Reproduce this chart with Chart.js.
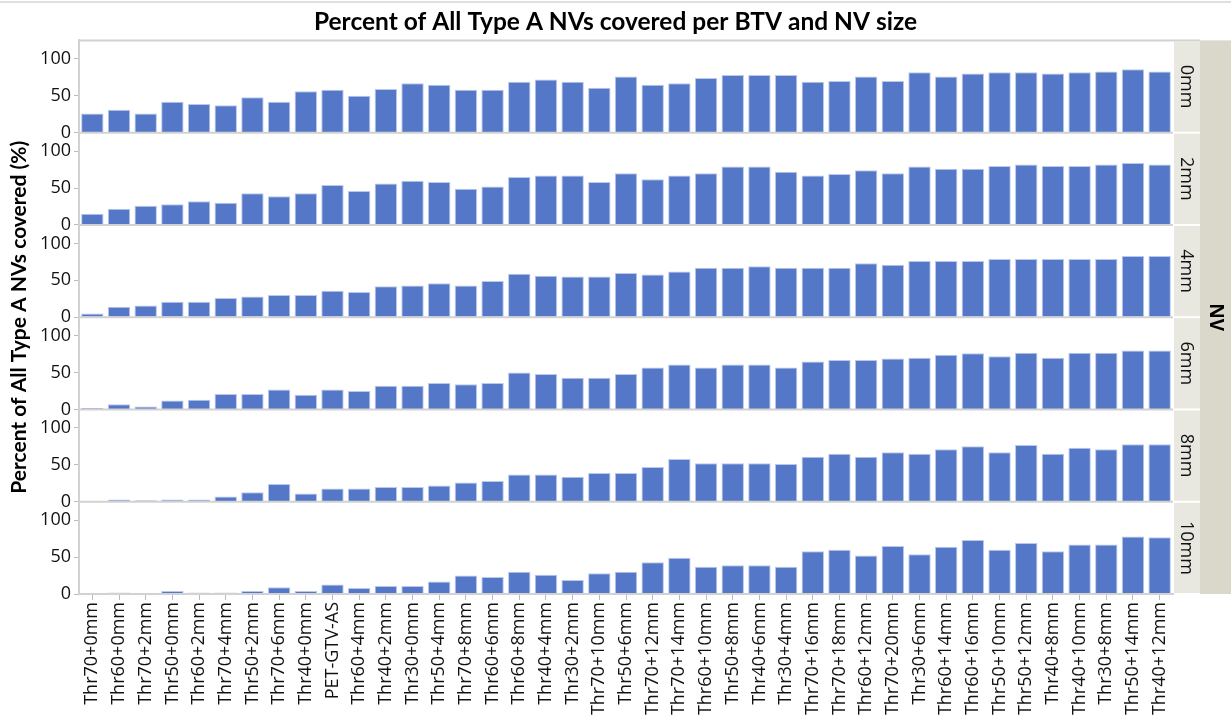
<!DOCTYPE html>
<html>
<head>
<meta charset="utf-8">
<script src="https://cdn.jsdelivr.net/npm/chart.js@4.4.1/dist/chart.umd.min.js"></script>
<style>
  html, body { margin: 0; padding: 0; background: #fff; }
  #wrap { width: 1231px; height: 726px; position: relative; }
</style>
</head>
<body>
<div id="wrap"><canvas id="chart"></canvas></div>
<script>
// categories along the x axis (BTV definitions)
const categories = [
  'Thr70+0mm', 'Thr60+0mm', 'Thr70+2mm', 'Thr50+0mm', 'Thr60+2mm', 'Thr70+4mm', 'Thr50+2mm',
  'Thr70+6mm', 'Thr40+0mm', 'PET-GTV-AS', 'Thr60+4mm', 'Thr40+2mm', 'Thr30+0mm', 'Thr50+4mm',
  'Thr70+8mm', 'Thr60+6mm', 'Thr60+8mm', 'Thr40+4mm', 'Thr30+2mm', 'Thr70+10mm', 'Thr50+6mm',
  'Thr70+12mm', 'Thr70+14mm', 'Thr60+10mm', 'Thr50+8mm', 'Thr40+6mm', 'Thr30+4mm', 'Thr70+16mm',
  'Thr70+18mm', 'Thr60+12mm', 'Thr70+20mm', 'Thr30+6mm', 'Thr60+14mm', 'Thr60+16mm', 'Thr50+10mm',
  'Thr50+12mm', 'Thr40+8mm', 'Thr40+10mm', 'Thr30+8mm', 'Thr50+14mm', 'Thr40+12mm'
];

// NV size panels
const nvSizes = ['0mm', '2mm', '4mm', '6mm', '8mm', '10mm'];

// percent covered, one array per NV size
const covered0mm = [26, 31, 26, 42, 39, 37, 48, 42, 56, 58, 50, 59, 67, 65, 58, 58, 69, 72, 69, 61, 76,
  65, 67, 74, 78, 78, 78, 69, 70, 76, 70, 82, 76, 80, 82, 82, 80, 82, 83, 86, 83];
const covered2mm = [15, 22, 26, 28, 32, 30, 43, 39, 43, 54, 46, 56, 60, 58, 49, 52, 65, 67, 67, 58, 70,
  62, 67, 70, 79, 79, 72, 67, 69, 74, 70, 79, 76, 76, 80, 82, 80, 80, 82, 84, 82];
const covered4mm = [5, 14, 16, 21, 21, 26, 28, 30, 30, 36, 34, 42, 43, 46, 43, 49, 59, 56, 55, 55, 60,
  58, 62, 67, 67, 69, 67, 67, 67, 73, 71, 76, 76, 76, 79, 79, 79, 79, 79, 83, 83];
const covered6mm = [2, 7, 4, 12, 13, 21, 21, 27, 20, 27, 25, 32, 32, 36, 34, 36, 50, 48, 43, 43, 48,
  57, 61, 57, 61, 61, 57, 65, 67, 67, 69, 70, 74, 76, 72, 77, 70, 77, 77, 80, 80];
const covered8mm = [0, 3, 2, 3, 3, 7, 13, 24, 11, 18, 18, 20, 20, 22, 26, 28, 37, 37, 34, 39, 39,
  47, 58, 52, 52, 52, 51, 61, 65, 61, 67, 65, 71, 75, 67, 77, 65, 73, 71, 78, 78];
const covered10mm = [0, 2, 0, 4, 2, 2, 4, 9, 4, 13, 8, 11, 11, 17, 25, 23, 30, 26, 19, 28, 30,
  43, 49, 37, 39, 39, 37, 58, 60, 52, 65, 54, 64, 73, 60, 69, 58, 67, 67, 78, 77];

// y axis ticks (labels only on 0, 50, 100)
const yTickValues = [0, 25, 50, 75, 100];
const yTickLabels = { 0: '0', 50: '50', 100: '100' };

const panels = [covered0mm, covered2mm, covered4mm, covered6mm, covered8mm, covered10mm];

const LINE = '#d2d2d2';
const BAR = '#5477c7';

const scales = {
  x: {
    type: 'category',
    labels: categories,
    offset: true,
    afterFit: s => { s.height = 132; },
    grid: { offset: false, drawOnChartArea: false, tickLength: 6, color: '#bbbbbb' },
    border: { color: LINE, width: 2 },
    ticks: {
      autoSkip: false, minRotation: 90, maxRotation: 90, padding: 2,
      color: '#111', font: { family: 'Open Sans', size: 18 }
    }
  },
  // empty right axis that only reserves room for the NV strips
  strip: {
    type: 'linear',
    position: 'right',
    afterFit: s => { s.width = 58; },
    grid: { display: false },
    border: { display: false },
    ticks: { display: false }
  }
};

// stacked left axes get placed bottom-up, so add them from the last panel
for (let i = panels.length - 1; i >= 0; i--) {
  scales['y' + i] = {
    type: 'linear',
    position: 'left',
    stack: 'nv',
    stackWeight: 1,
    min: 0,
    max: 125,
    afterBuildTicks: s => { s.ticks = yTickValues.map(v => ({ value: v })); },
    afterFit: s => { s.width = 79; },
    grid: { drawOnChartArea: false, tickLength: 5, color: '#bbbbbb' },
    border: { color: LINE, width: 2 },
    ticks: {
      padding: 3,
      color: '#111',
      font: { family: 'Open Sans', size: 18 },
      callback: v => (yTickLabels[v] !== undefined ? yTickLabels[v] : '')
    }
  };
}

// panel borders, NV strips on the right and the y axis title
const panelDecor = {
  id: 'panelDecor',
  afterDraw(chart) {
    const ctx = chart.ctx;
    const area = chart.chartArea;
    const stripW = 27;
    ctx.save();

    // thin line at the very top
    ctx.strokeStyle = '#d6d6d6';
    ctx.lineWidth = 1.5;
    ctx.beginPath();
    ctx.moveTo(0, 2); ctx.lineTo(chart.width, 2);
    ctx.stroke();

    // NV band
    ctx.fillStyle = '#d9d8cb';
    ctx.fillRect(area.right + stripW, area.top, chart.width - area.right - stripW, area.bottom - area.top);

    // top line of the plot
    ctx.strokeStyle = LINE;
    ctx.lineWidth = 2;
    ctx.beginPath();
    ctx.moveTo(area.left, area.top); ctx.lineTo(area.right + stripW, area.top);
    ctx.stroke();

    nvSizes.forEach((name, i) => {
      const ax = chart.scales['y' + i];
      // separator between panels
      ctx.strokeStyle = LINE;
      ctx.lineWidth = 2;
      ctx.beginPath();
      ctx.moveTo(area.left, ax.bottom); ctx.lineTo(area.right, ax.bottom);
      ctx.stroke();
      // strip cell
      ctx.fillStyle = '#e8e8e0';
      ctx.fillRect(area.right + 1, ax.top + 1, stripW - 1, ax.bottom - ax.top - 2);
      ctx.save();
      ctx.translate(area.right + stripW / 2, (ax.top + ax.bottom) / 2);
      ctx.rotate(Math.PI / 2);
      ctx.fillStyle = '#111';
      ctx.font = '18px "Open Sans"';
      ctx.textAlign = 'center';
      ctx.textBaseline = 'middle';
      ctx.fillText(name, 0, 0);
      ctx.restore();
    });

    // NV label
    ctx.save();
    ctx.translate(area.right + stripW + (chart.width - area.right - stripW) / 2, (area.top + area.bottom) / 2);
    ctx.rotate(Math.PI / 2);
    ctx.fillStyle = '#000';
    ctx.font = 'bold 19px "Open Sans"';
    ctx.textAlign = 'center';
    ctx.textBaseline = 'middle';
    ctx.fillText('NV', 0, 0);
    ctx.restore();

    // y axis title
    ctx.save();
    ctx.translate(19, (area.top + area.bottom) / 2);
    ctx.rotate(-Math.PI / 2);
    ctx.fillStyle = '#000';
    ctx.font = 'bold 21px Lato';
    ctx.textAlign = 'center';
    ctx.textBaseline = 'middle';
    ctx.fillText('Percent of All Type A NVs covered (%)', 0, 0);
    ctx.restore();

    ctx.restore();
  }
};

new Chart(document.getElementById('chart'), {
  type: 'bar',
  data: {
    labels: categories,
    datasets: panels.map((d, i) => ({
      label: nvSizes[i],
      data: d,
      yAxisID: 'y' + i,
      backgroundColor: BAR,
      borderColor: '#b9c8ec',
      borderWidth: 1,
      barPercentage: 0.84,
      categoryPercentage: 1,
      grouped: false
    }))
  },
  options: {
    responsive: true,
    maintainAspectRatio: false,
    animation: false,
    layout: { padding: 0 },
    plugins: {
      legend: { display: false },
      tooltip: { enabled: false },
      title: {
        display: true,
        text: 'Percent of All Type A NVs covered per BTV and NV size',
        color: '#000',
        font: { family: 'Lato', size: 24.5, weight: 'bold' },
        padding: { top: 7, bottom: 4 }
      }
    },
    scales: scales
  },
  plugins: [panelDecor]
});
</script>
</body>
</html>
